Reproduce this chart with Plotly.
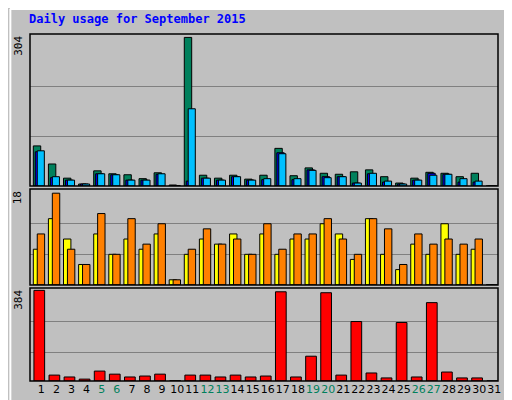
import plotly.graph_objects as go

days = list(range(1, 32))
day_labels = [str(d) for d in days]
weekend = [5, 6, 12, 13, 19, 20, 26, 27]
hits  = [82,45,16,4,31,25,23,15,27,2,304,22,16,22,14,22,77,21,37,26,24,29,33,19,6,16,28,26,19,26,0]
files = [70,17,12,4,25,23,12,12,24,1,10,16,12,19,12,13,68,13,33,19,19,6,25,8,4,12,26,24,8,8,0]
pages = [72,19,12,4,25,23,12,12,25,1,158,16,12,19,12,15,66,15,32,17,19,6,26,10,4,12,22,24,15,10,0]
visits = [7,13,9,4,10,6,9,7,10,1,6,9,8,10,6,10,6,9,9,12,10,5,13,6,3,8,6,12,6,7,0]
sites  = [10,18,7,4,14,6,13,8,12,1,7,11,8,9,6,12,7,10,10,13,9,6,13,11,4,10,8,9,8,9,0]
kbytes = [384,25,17,8,42,29,17,21,29,1,25,25,17,25,17,21,378,17,105,374,25,252,34,13,248,17,332,38,13,13,0]

fig = go.Figure()
line = dict(color="black", width=1)
def bar(y, color, off, w, ya):
    fig.add_trace(go.Bar(x=days, y=y, marker=dict(color=color, line=line),
                         offset=off, width=w, yaxis=ya, showlegend=False))
bar(hits, "#00805c", -0.53, 0.49, "y")
bar(files, "#0000ff", -0.40, 0.49, "y")
bar(pages, "#00c0ff", -0.27, 0.47, "y")
bar(visits, "#ffff00", -0.53, 0.49, "y2")
bar(sites, "#ff8000", -0.27, 0.49, "y2")
bar(kbytes, "#ff0000", -0.49, 0.71, "y3")

grid = dict(showgrid=True, gridcolor="#808080", gridwidth=1, showticklabels=False,
            zeroline=False, ticks="", automargin=False)
fig.update_layout(
    width=512, height=400, barmode="overlay",
    paper_bgcolor="#c0c0c0", plot_bgcolor="#c0c0c0",
    margin=dict(l=22, r=22, t=26, b=27, autoexpand=False),
    xaxis=dict(range=[0.25, 31.25], tickvals=days, showgrid=False, zeroline=False, tickangle=0,
               automargin=False,
               ticktext=[f"<span style='color:#00805c'>{d}</span>" if d in weekend else str(d) for d in days],
               ticks="", tickfont=dict(family="DejaVu Sans", size=11, color="black"), anchor="y3"),
    yaxis=dict(domain=[0.562, 1], range=[0, 311], tickvals=[101, 203], **grid),
    yaxis2=dict(domain=[0.277, 0.553], range=[0, 18.8], tickvals=[6, 12], **grid),
    yaxis3=dict(domain=[0, 0.268], range=[0, 394], tickvals=[120, 250], **grid),
    font=dict(family="DejaVu Sans Mono"),
)

shapes = []
for y0, y1 in [(0.562, 1), (0.277, 0.553), (0, 0.268)]:
    shapes.append(dict(type="rect", xref="paper", yref="paper", x0=0, x1=1, y0=y0, y1=y1,
                       line=dict(color="black", width=1.5)))
shapes += [
    dict(type="line", xref="paper", yref="paper", x0=-0.043, x1=1.043, y0=1.072, y1=1.072, line=dict(color="white", width=2)),
    dict(type="line", xref="paper", yref="paper", x0=-0.042, x1=-0.042, y0=-0.075, y1=1.072, line=dict(color="white", width=2)),
    dict(type="line", xref="paper", yref="paper", x0=-0.043, x1=1.043, y0=-0.074, y1=-0.074, line=dict(color="#808080", width=3)),
    dict(type="line", xref="paper", yref="paper", x0=1.042, x1=1.042, y0=-0.075, y1=1.072, line=dict(color="#808080", width=3)),
]
fig.update_layout(shapes=shapes)

ann = [dict(text="<b>Daily usage for September 2015</b>", x=-0.007, y=1.043, xanchor="left", yanchor="middle",
            font=dict(size=12, color="#0000ff", family="DejaVu Sans Mono"))]
for txt, y in [("304", 1.0), ("18", 0.553), ("384", 0.268)]:
    ann.append(dict(text=txt, x=-0.008, y=y, xanchor="right", yanchor="top", textangle=-90,
                    font=dict(size=11, color="black", family="DejaVu Sans Mono")))
right = [
    ("Pages", "#00c0ff", 0.66), ("/", "black", 0.728), ("Files", "#0000ff", 0.80), ("/", "black", 0.872), ("Hits", "#00805c", 0.935),
    ("Sites", "#ff8000", 0.315), ("/", "black", 0.385), ("Visits", "#ffff00", 0.465),
    ("KBytes", "#ff0000", 0.045),
]
for txt, col, y in right:
    ann.append(dict(text=txt, x=1.008, y=y, xanchor="left", yanchor="middle", textangle=-90,
                    font=dict(size=11, color=col, family="DejaVu Sans Mono")))
for a in ann:
    a.update(xref="paper", yref="paper", showarrow=False)
fig.update_layout(annotations=ann)
fig.write_html("out.html")
